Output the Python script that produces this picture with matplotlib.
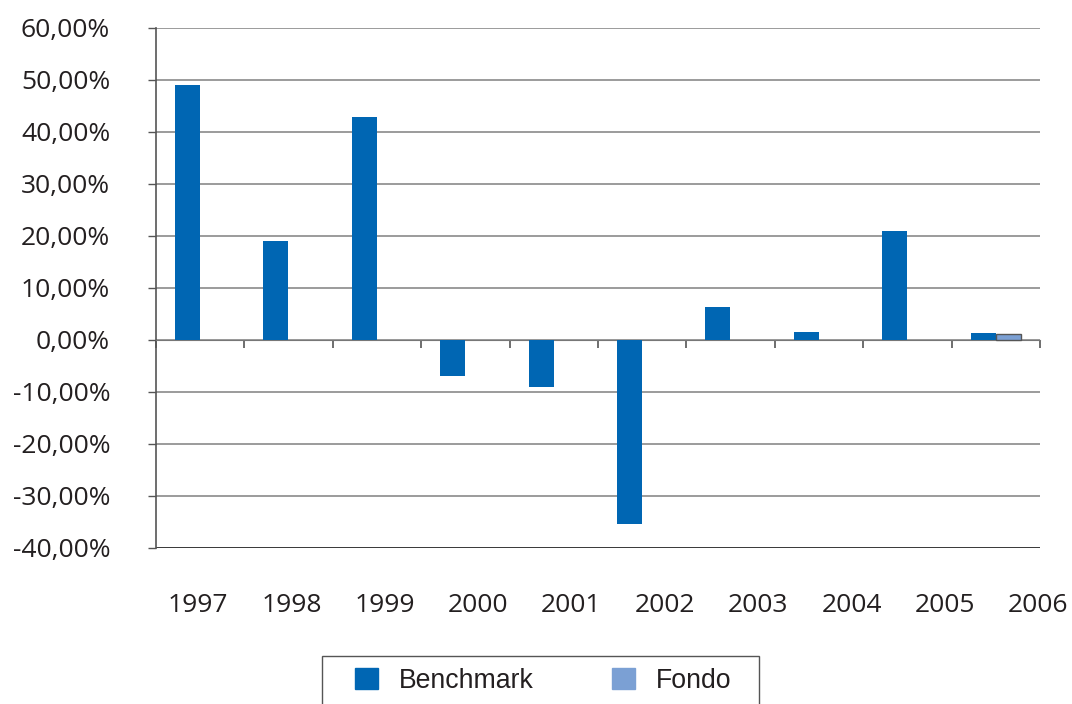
import numpy as np
import matplotlib
matplotlib.use("Agg")
import matplotlib.pyplot as plt
import matplotlib.transforms as mtransforms
from matplotlib.patches import Patch, Rectangle

years = ["1997", "1998", "1999", "2000", "2001", "2002", "2003", "2004", "2005", "2006"]
benchmark = [49.0, 19.0, 42.9, -6.9, -9.0, -35.4, 6.3, 1.5, 21.0, 1.35]
fondo = [np.nan, np.nan, np.nan, np.nan, np.nan, np.nan, np.nan, np.nan, np.nan, 1.1]
y_ticks = [60, 50, 40, 30, 20, 10, 0, -10, -20, -30, -40]

bench_color = "#0066b3"
fondo_color = "#7ba0d4"

fig = plt.figure(figsize=(10.72, 7.04), dpi=100)
ax = fig.add_axes([156 / 1072, 1 - 548 / 704, (1040 - 156) / 1072, 520 / 704])

x = np.arange(len(years))
w = 0.283
ax.bar(x - 0.143, benchmark, width=w, color=bench_color, zorder=3)
ax.bar(x + 0.14, fondo, width=w, color=fondo_color, edgecolor="#555555", linewidth=1, zorder=3)

ax.set_xlim(-0.5, len(years) - 0.5)
ax.set_ylim(-40, 60)

# horizontal grid, bottom line darker
ax.set_yticks(y_ticks)
ax.set_yticklabels([f"{v},00%" for v in y_ticks], fontfamily="Open Sans", fontsize=19, color="#231f20")
ax.yaxis.grid(True, color="#808080", linewidth=1.1)
ax.set_axisbelow(True)
ax.axhline(-40, color="#333333", linewidth=1.3, zorder=2)
ax.tick_params(axis="y", direction="out", length=6, width=1, color="#555555", pad=27)

# zero line acts as the x axis with ticks at category boundaries
for s in ["top", "right"]:
    ax.spines[s].set_visible(False)
ax.spines["bottom"].set_position(("data", 0))
ax.spines["bottom"].set_color("#777777")
ax.spines["left"].set_color("#555555")
ax.spines["left"].set_linewidth(1.2)
ax.set_xticks(np.arange(-0.5, len(years), 1.0))
ax.set_xticklabels([])
ax.tick_params(axis="x", direction="out", length=6, width=1.2, color="#555555")

# year labels below the plot
trans = mtransforms.blended_transform_factory(ax.transData, ax.transAxes)
label_pos = np.linspace(-0.025, 9.48, len(years))
for xp, yr in zip(label_pos, years):
    ax.text(xp, -0.11, yr, transform=trans, ha="center", va="center",
            fontfamily="Open Sans", fontsize=19, color="#231f20")

# legend with box running off the bottom edge
fig.patches.append(Rectangle((321.7 / 1072, -0.05), (759 - 321.7) / 1072, 0.05 + (704 - 655.7) / 704,
                             transform=fig.transFigure, fill=False, edgecolor="#555555", linewidth=1))
handles = [Patch(color=bench_color, label="Benchmark"), Patch(color=fondo_color, label="Fondo")]
fig.legend(handles=handles, loc="center left", bbox_to_anchor=(355 / 1072, 1 - 681 / 704),
           ncol=2, frameon=False, prop={"family": "Liberation Sans", "size": 19.2},
           handlelength=0.86, handleheight=0.86, handletextpad=0.8, columnspacing=2.92,
           borderpad=0, borderaxespad=0, labelcolor="#231f20")

plt.savefig("out.png", dpi=100)
